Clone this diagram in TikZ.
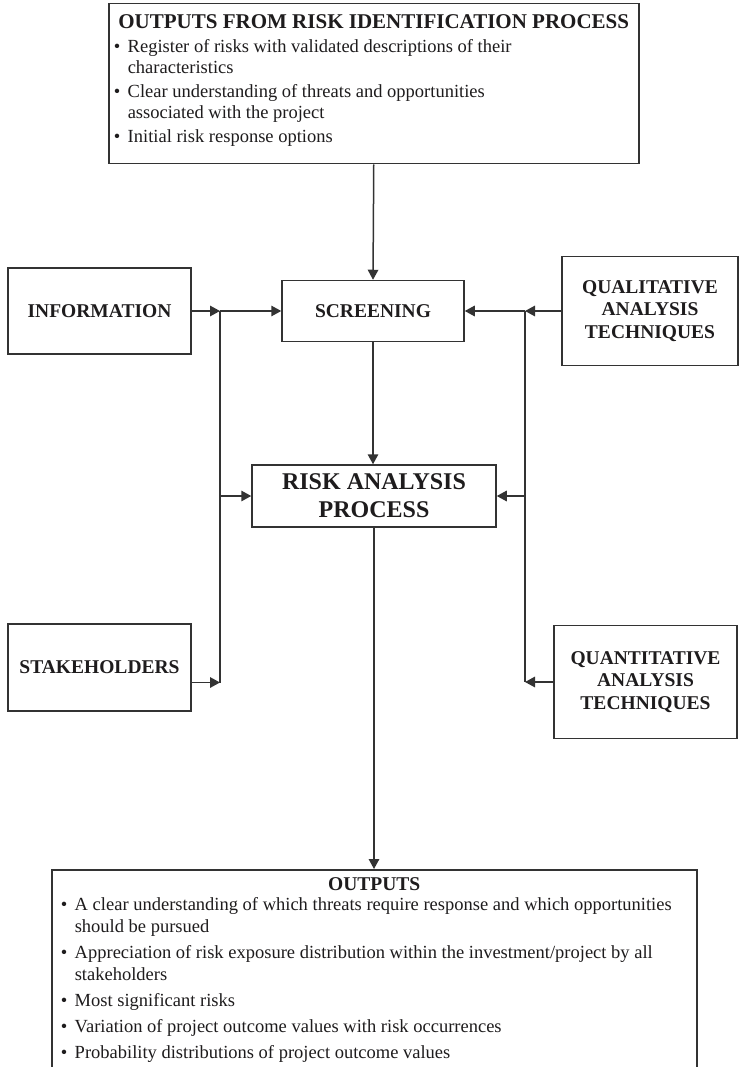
\documentclass[tikz,border=0pt]{standalone}
\usepackage{fontspec}
\setmainfont{Liberation Serif}
\usetikzlibrary{arrows.meta}

\definecolor{ink}{HTML}{1E1C1D}
\definecolor{rule}{HTML}{333333}

% type sizes (1pt = one unit of the drawing grid)
\newcommand\bodysize{\fontsize{18.5}{21}\selectfont}
\newcommand\listsize{\fontsize{18.5}{22}\selectfont}
\newcommand\labelsize{\fontsize{19.5}{22.5}\selectfont\bfseries}
\newcommand\headsize{\fontsize{21}{24}\selectfont\bfseries}
\newcommand\risksize{\fontsize{24}{28}\selectfont\bfseries}

% one bulleted entry with a hanging indent
\newcommand\riskitem[1]{\par\hangindent=14pt\hangafter=1\noindent\makebox[14pt][l]{\textbullet}#1}

\begin{document}
\begin{tikzpicture}[x=1pt, y=-1pt,
  frame/.style={draw=rule, line width=1.5pt, fill=white, inner sep=0pt, text=ink},
  box/.style={frame, align=center, font=\labelsize},
  wire/.style={draw=rule, line width=1.5pt},
  link/.style={wire, -{Triangle[length=10pt, width=10.5pt]}}]

\useasboundingbox (0,0) rectangle (739,1067);
\clip (0,0) rectangle (739,1067);
\fill[white] (0,0) rectangle (739,1067);

% outputs of the identification stage
\node[frame, anchor=north west] (idout) at (108,3) {\parbox[c][160pt][t]{530pt}{%
  \vspace*{11pt}%
  {\centering\headsize OUTPUTS FROM RISK IDENTIFICATION PROCESS\par}%
  \raggedright\leftskip=5pt\parskip=3pt\bodysize
  \riskitem{Register of risks with validated descriptions of their\newline characteristics}
  \riskitem{Clear understanding of threats and opportunities\newline associated with the project}
  \riskitem{Initial risk response options}\par}};

% inputs and stages
\node[box, minimum width=183pt, minimum height=86pt] (info) at (99.5,311) {INFORMATION};
\node[box, minimum width=182pt, minimum height=61pt] (screen) at (373,311) {SCREENING};
\node[box, minimum width=176pt, minimum height=109pt] (qual) at (650,311) {QUALITATIVE\\ANALYSIS\\TECHNIQUES};
\node[box, minimum width=244pt, minimum height=62pt, font=\risksize] (risk) at (374,496) {RISK ANALYSIS\\PROCESS};
\node[box, minimum width=183pt, minimum height=87pt] (stake) at (99.5,667.5) {STAKEHOLDERS};
\node[box, minimum width=183pt, minimum height=113pt] (quant) at (645.5,682) {QUANTITATIVE\\ANALYSIS\\TECHNIQUES};

% outputs of the analysis stage
\node[frame, anchor=north west] (outs) at (51,869) {\parbox[c][215pt][t]{645pt}{%
  \vspace*{8pt}%
  {\centering\labelsize OUTPUTS\par}%
  \vspace{-6.5pt}%
  \raggedright\leftskip=9pt\parskip=4pt\listsize
  \riskitem{A clear understanding of which threats require response and which opportunities\newline should be pursued}
  \riskitem{Appreciation of risk exposure distribution within the investment/project by all\newline stakeholders}
  \riskitem{Most significant risks}
  \riskitem{Variation of project outcome values with risk occurrences}
  \riskitem{Probability distributions of project outcome values}\par}};

% bus lines on both sides
\coordinate (jl) at (220,311);
\coordinate (jr) at (525,311);
\coordinate (stakeout) at ([yshift=-15pt]stake.east);

% main flow
\draw[link] (idout.south) -- (screen.north);
\draw[link] (screen.south) -- (screen.south |- risk.north);
\draw[link] (risk.south) -- (risk.south |- outs.north);

% left feed
\draw[link] (info.east) -- (info.east -| jl);
\draw[link] (info.east -| jl) -- (screen.west);
\draw[wire] (info.east -| jl) -- (stakeout -| jl);
\draw[link] (stakeout) -- (stakeout -| jl);
\draw[link] (jl |- risk.west) -- (risk.west);

% right feed
\draw[link] (qual.west) -- (qual.west -| jr);
\draw[link] (qual.west -| jr) -- (screen.east);
\draw[wire] (qual.west -| jr) -- (quant.west -| jr);
\draw[link] (quant.west) -- (quant.west -| jr);
\draw[link] (jr |- risk.east) -- (risk.east);
\end{tikzpicture}
\end{document}
